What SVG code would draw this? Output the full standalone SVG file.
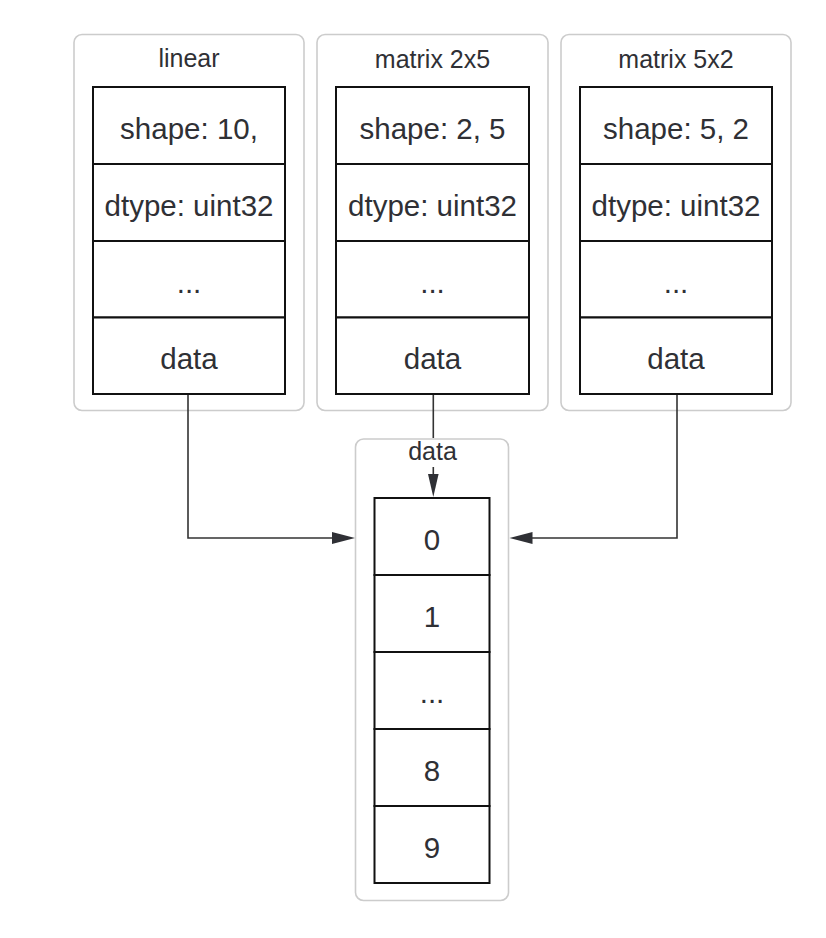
<svg xmlns="http://www.w3.org/2000/svg" width="826" height="938" viewBox="0 0 826 938">
<style>
.cl{fill:#ffffff;stroke:#cccccc;stroke-width:1.6}
.cell{fill:#ffffff;stroke:#111111;stroke-width:2}
.lbl{font-family:"Liberation Sans",Arial,sans-serif;font-size:25px;fill:#2f3035;text-anchor:middle}
.txt{font-family:"Liberation Sans",Arial,sans-serif;font-size:29.5px;fill:#2f3035;text-anchor:middle}
.edge{fill:none;stroke:#333333;stroke-width:1.6}
.head{fill:#2f3035}
</style>
<rect width="826" height="938" fill="#ffffff"/>
<g id="linear">
<rect class="cl" x="74" y="34.5" width="230" height="376" rx="8"/>
<text class="lbl" x="189" y="67">linear</text>
<rect class="cell" x="93" y="87" width="192" height="77"/>
<rect class="cell" x="93" y="164" width="192" height="77"/>
<rect class="cell" x="93" y="241" width="192" height="76.5"/>
<rect class="cell" x="93" y="317.5" width="192" height="76.5"/>
<text class="txt" x="189" y="138.5">shape: 10,</text>
<text class="txt" x="189" y="215.5">dtype: uint32</text>
<text class="txt" x="189" y="293">...</text>
<text class="txt" x="189" y="369">data</text>
</g>
<g id="matrix2x5">
<rect class="cl" x="317" y="34.5" width="231" height="376" rx="8"/>
<text class="lbl" x="432.5" y="68">matrix 2x5</text>
<rect class="cell" x="336" y="87" width="193" height="77"/>
<rect class="cell" x="336" y="164" width="193" height="77"/>
<rect class="cell" x="336" y="241" width="193" height="76.5"/>
<rect class="cell" x="336" y="317.5" width="193" height="76.5"/>
<text class="txt" x="432.5" y="138.5">shape: 2, 5</text>
<text class="txt" x="432.5" y="215.5">dtype: uint32</text>
<text class="txt" x="432.5" y="293">...</text>
<text class="txt" x="432.5" y="369">data</text>
</g>
<g id="matrix5x2">
<rect class="cl" x="561" y="34.5" width="230" height="376" rx="8"/>
<text class="lbl" x="676" y="68">matrix 5x2</text>
<rect class="cell" x="580" y="87" width="192" height="77"/>
<rect class="cell" x="580" y="164" width="192" height="77"/>
<rect class="cell" x="580" y="241" width="192" height="76.5"/>
<rect class="cell" x="580" y="317.5" width="192" height="76.5"/>
<text class="txt" x="676" y="138.5">shape: 5, 2</text>
<text class="txt" x="676" y="215.5">dtype: uint32</text>
<text class="txt" x="676" y="293">...</text>
<text class="txt" x="676" y="369">data</text>
</g>
<g id="data">
<rect class="cl" x="355.5" y="439" width="153" height="461.5" rx="8"/>
<text class="lbl" x="432.5" y="460">data</text>
<rect class="cell" x="374.5" y="498" width="115" height="77"/>
<rect class="cell" x="374.5" y="575" width="115" height="77"/>
<rect class="cell" x="374.5" y="652" width="115" height="77"/>
<rect class="cell" x="374.5" y="729" width="115" height="77"/>
<rect class="cell" x="374.5" y="806" width="115" height="77"/>
<text class="txt" x="432" y="549.5">0</text>
<text class="txt" x="432" y="626.5">1</text>
<text class="txt" x="432" y="703">...</text>
<text class="txt" x="432" y="780.5">8</text>
<text class="txt" x="432" y="857.5">9</text>
</g>
<g id="connectors">
<path class="edge" d="M188 395 V538 H336"/>
<path class="head" d="M355 538 L332 532 L332 544 Z"/>
<path class="edge" d="M433.3 395 V438"/>
<path class="edge" d="M433.3 467 V478"/>
<path class="head" d="M433.3 497 L428 474 L438.6 474 Z"/>
<path class="edge" d="M677 395 V538 H528"/>
<path class="head" d="M509.5 538 L532.5 532 L532.5 544 Z"/>
</g>
</svg>
